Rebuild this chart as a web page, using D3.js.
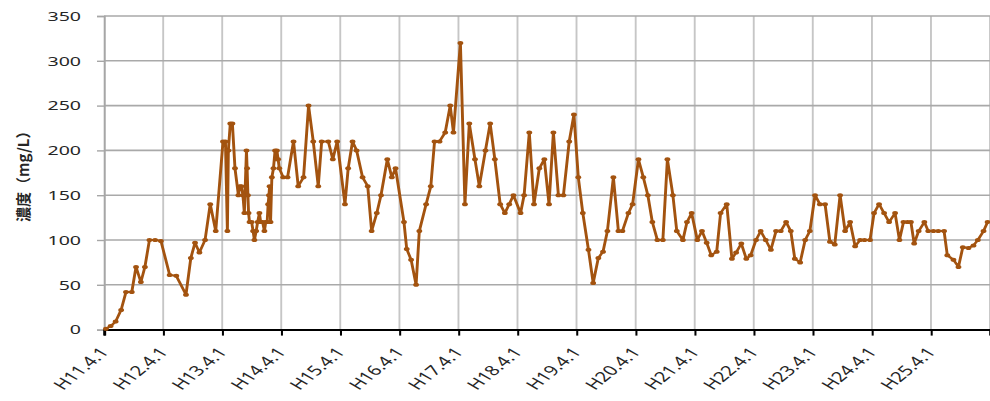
<!DOCTYPE html>
<html>
<head>
<meta charset="utf-8">
<script src="https://cdn.jsdelivr.net/npm/d3@7"></script>
<style>
  html, body { margin: 0; padding: 0; background: #fff; }
  svg { display: block; }
</style>
</head>
<body>
<svg id="chart" width="990" height="401"></svg>
<script>
// Sampling dates (ISO) and measured concentration (mg/L)
const dates = [
  "1999-04-13","1999-05-12","1999-06-12","1999-07-16","1999-08-15","1999-09-20","1999-10-16","1999-11-15","1999-12-10",
  "2000-01-07","2000-02-11","2000-03-18","2000-05-11","2000-06-21","2000-08-20","2000-09-19","2000-10-15","2000-11-11","2000-12-16",
  "2001-01-17","2001-02-20","2001-04-06","2001-04-21","2001-05-03","2001-05-09","2001-05-21","2001-06-03","2001-06-19","2001-07-10",
  "2001-07-19","2001-07-29","2001-08-07","2001-08-16","2001-08-29","2001-09-02","2001-09-07","2001-09-11","2001-09-17","2001-09-30",
  "2001-10-09","2001-10-17","2001-10-28","2001-11-06","2001-11-17","2001-11-25","2001-12-07","2001-12-18","2001-12-26",
  "2002-01-04","2002-01-10","2002-01-15","2002-01-19","2002-01-25","2002-02-02","2002-02-12","2002-02-22","2002-02-28",
  "2002-03-05","2002-03-13","2002-03-20","2002-04-13","2002-05-10","2002-06-16","2002-07-15","2002-08-17","2002-09-17",
  "2002-10-16","2002-11-16","2002-12-07","2003-01-17","2003-02-14","2003-03-13","2003-04-30","2003-05-20","2003-06-16",
  "2003-07-11","2003-08-17","2003-09-18","2003-10-12","2003-11-13","2003-12-09","2004-01-17","2004-02-14","2004-03-08",
  "2004-04-29","2004-05-16","2004-06-12","2004-07-13","2004-08-02","2004-09-13","2004-10-12","2004-11-04","2004-12-05",
  "2005-01-09","2005-02-09","2005-03-01","2005-04-13","2005-05-11","2005-06-07","2005-07-12","2005-08-08","2005-09-15",
  "2005-10-14","2005-11-12","2005-12-15","2006-01-13","2006-02-09","2006-03-07","2006-04-20","2006-05-12","2006-06-13",
  "2006-07-12","2006-08-14","2006-09-14","2006-10-13","2006-11-09","2006-12-10","2007-01-10","2007-02-15","2007-03-16",
  "2007-04-12","2007-05-10","2007-06-14","2007-07-13","2007-08-14","2007-09-12","2007-10-09","2007-11-15","2007-12-16",
  "2008-01-10","2008-02-16","2008-03-13","2008-04-18","2008-05-18","2008-06-15","2008-07-13","2008-08-13","2008-09-16",
  "2008-10-14","2008-11-17","2008-12-11","2009-01-18","2009-02-12","2009-03-13","2009-04-17","2009-05-16","2009-06-14",
  "2009-07-12","2009-08-15","2009-09-08","2009-10-16","2009-11-17","2009-12-13","2010-01-14","2010-02-14","2010-03-13",
  "2010-04-15","2010-05-14","2010-06-14","2010-07-16","2010-08-17","2010-09-15","2010-10-18","2010-11-16","2010-12-11",
  "2011-01-13","2011-02-13","2011-03-14","2011-04-15","2011-05-15","2011-06-16","2011-07-16","2011-08-15","2011-09-17",
  "2011-10-18","2011-11-18","2011-12-19","2012-01-19","2012-02-15","2012-03-20","2012-04-14","2012-05-15","2012-06-15",
  "2012-07-16","2012-08-22","2012-09-18","2012-10-13","2012-11-07","2012-11-28","2012-12-18","2013-01-15","2013-02-19",
  "2013-03-15","2013-04-16","2013-05-16","2013-06-21","2013-07-11","2013-08-18","2013-09-18","2013-10-15","2013-11-19",
  "2013-12-20","2014-01-16","2014-02-20","2014-03-17"
];
const values = [
  1, 4, 9, 22, 42, 42, 70, 53, 70,
  100, 100, 99, 61, 60, 39, 80, 97, 86, 100,
  140, 110, 210, 210, 110, 200, 230, 230, 180, 150,
  160, 160, 150, 130, 200, 180, 150, 130, 120, 120,
  110, 100, 110, 120, 130, 120, 120, 110, 120,
  120, 140, 150, 160, 120, 170, 180, 200, 190,
  200, 190, 180, 170, 170, 210, 160, 170, 250,
  210, 160, 210, 210, 190, 210, 140, 180, 210,
  200, 170, 160, 110, 130, 150, 190, 170, 180,
  120, 90, 78, 50, 110, 140, 160, 210, 210,
  220, 250, 220, 320, 140, 230, 190, 160, 200,
  230, 190, 140, 130, 140, 150, 130, 150, 220,
  140, 180, 190, 140, 220, 150, 150, 210, 240,
  170, 130, 89, 52, 80, 87, 110, 170, 110,
  110, 130, 140, 190, 170, 150, 120, 100, 100,
  190, 150, 110, 100, 120, 130, 100, 110, 97,
  83, 87, 130, 140, 79, 86, 96, 79, 83,
  100, 110, 100, 89, 110, 110, 120, 110, 79,
  75, 100, 110, 150, 140, 140, 98, 95, 150,
  110, 120, 93, 100, 100, 100, 130, 140, 130,
  120, 130, 100, 120, 120, 120, 96, 110, 120,
  110, 110, 110, 110, 83, 78, 70, 92, 91,
  94, 100, 110, 120
];

// Axis ticks
const yTicks = [0, 50, 100, 150, 200, 250, 300, 350];
const xTickDates = [
  "1999-04-01","2000-04-01","2001-04-01","2002-04-01","2003-04-01","2004-04-01","2005-04-01","2006-04-01",
  "2007-04-01","2008-04-01","2009-04-01","2010-04-01","2011-04-01","2012-04-01","2013-04-01","2014-04-01"
];
const xTickLabels = [
  "H11.4.1","H12.4.1","H13.4.1","H14.4.1","H15.4.1","H16.4.1","H17.4.1","H18.4.1",
  "H19.4.1","H20.4.1","H21.4.1","H22.4.1","H23.4.1","H24.4.1","H25.4.1",""
];
const yTitle = "濃度（mg/L）";

// Layout (page pixels); the plot is drawn in a horizontally stretched frame
const SX = 1.45;
const plotLeft = 104, plotRight = 990, plotTop = 16, plotBottom = 329.6;
const lineColor = "#a3530f";

const parse = d3.utcParse("%Y-%m-%d");
const points = dates.map((d, i) => ({ date: parse(d), v: values[i] }));
const tickDates = xTickDates.map(parse);

const svg = d3.select("#chart");
const g = svg.append("g").attr("transform", `scale(${SX},1)`);

const x = d3.scaleUtc()
  .domain([tickDates[0], tickDates[tickDates.length - 1]])
  .range([plotLeft / SX, plotRight / SX]);
const y = d3.scaleLinear().domain([0, 350]).range([plotBottom, plotTop]);

// Vertical gridlines at each fiscal-year start
g.append("g").selectAll("line")
  .data(tickDates.slice(1))
  .join("line")
  .attr("x1", d => x(d)).attr("x2", d => x(d))
  .attr("y1", plotTop).attr("y2", plotBottom)
  .attr("stroke", "#c6c6c6").attr("stroke-width", 1.3);

// Horizontal gridlines
g.append("g").selectAll("line")
  .data(yTicks.slice(1))
  .join("line")
  .attr("x1", plotLeft / SX).attr("x2", plotRight / SX)
  .attr("y1", d => y(d)).attr("y2", d => y(d))
  .attr("stroke", "#a9a9a9").attr("stroke-width", 1.6);

// Y axis
const yAxis = g.append("g")
  .attr("transform", `translate(${plotLeft / SX},0)`)
  .call(d3.axisLeft(y).tickValues(yTicks).tickSize(7 / SX).tickPadding(11));
yAxis.select(".domain").attr("stroke", "#a6a6a6").attr("stroke-width", 1.4);
yAxis.selectAll(".tick line").attr("stroke", "#a6a6a6").attr("stroke-width", 1.4);
yAxis.selectAll(".tick text")
  .attr("font-family", "'Noto Sans', 'Open Sans', sans-serif")
  .attr("font-size", 13.5).attr("fill", "#262626");

// X axis
const xAxis = g.append("g")
  .attr("transform", `translate(0,${plotBottom})`)
  .call(d3.axisBottom(x).tickValues(tickDates).tickSize(6)
    .tickFormat((d, i) => xTickLabels[i]));
xAxis.select(".domain").attr("stroke", "#000").attr("stroke-width", 2);
xAxis.selectAll(".tick line").attr("stroke", "#000").attr("stroke-width", 1.4);
xAxis.selectAll(".tick text")
  .attr("font-family", "'Noto Sans', 'Open Sans', sans-serif")
  .attr("font-size", 14).attr("fill", "#262626")
  .attr("text-anchor", "end")
  .attr("x", 0).attr("y", 0).attr("dy", 0)
  .attr("transform", `translate(${5 / SX},23) rotate(-50)`);

// Concentration series
g.append("path")
  .datum(points)
  .attr("fill", "none")
  .attr("stroke", lineColor)
  .attr("stroke-width", 2)
  .attr("stroke-linejoin", "round")
  .attr("d", d3.line().x(d => x(d.date)).y(d => y(d.v)));

g.append("g").selectAll("circle")
  .data(points)
  .join("circle")
  .attr("cx", d => x(d.date))
  .attr("cy", d => y(d.v))
  .attr("r", 2)
  .attr("fill", lineColor);

// Y axis title
svg.append("text")
  .attr("transform", `translate(29,${(plotTop + plotBottom) / 2}) rotate(-90)`)
  .attr("text-anchor", "middle")
  .attr("font-family", "'Noto Sans CJK JP', sans-serif")
  .attr("font-weight", "bold")
  .attr("font-size", 15)
  .attr("fill", "#262626")
  .text(yTitle);
</script>
</body>
</html>
